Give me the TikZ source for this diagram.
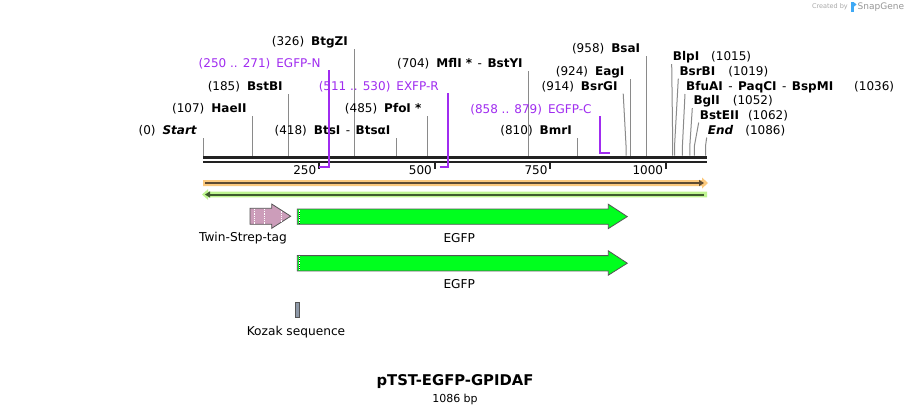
\documentclass[tikz,border=0pt]{standalone}
\usepackage{fontspec}
\setmainfont{DejaVu Sans}
\usetikzlibrary{arrows.meta,positioning,calc}
\definecolor{Ink}{HTML}{222222}
\definecolor{CutGray}{HTML}{8A8A8A}
\definecolor{Primer}{HTML}{A02CF0}
\definecolor{OrangeBand}{HTML}{FCC97D}
\definecolor{OrangeLine}{HTML}{5E4B32}
\definecolor{LimeBand}{HTML}{BEF590}
\definecolor{LimeLine}{HTML}{3E5B2D}
\definecolor{Gfp}{HTML}{00FF1E}
\definecolor{Strep}{HTML}{CC9DBA}
\definecolor{Kozak}{HTML}{8E99A8}
\definecolor{Edge}{HTML}{555555}
\definecolor{Credit}{HTML}{A8A8A8}
\definecolor{Logo}{HTML}{3FA9F5}
\newcommand{\bp}[1]{203.3+0.4625*#1}
\newcommand{\dsh}{\hspace{5.5pt}{\mdseries -}\hspace{5.5pt}}
\tikzset{
  site/.style={inner sep=1pt,font=\fontsize{12}{14}\selectfont},
  primertxt/.style={site,text=Primer},
  cut/.style={CutGray,line width=1pt},
  primerline/.style={Primer,line width=2pt},
  feat/.style={draw=Edge,line width=0.8pt},
  featlbl/.style={inner sep=1pt,font=\fontsize{12.2}{14}\selectfont}
}

\begin{document}
\begin{tikzpicture}[x=1pt,y=-1pt]
\useasboundingbox[fill=white] (0,0) rectangle (910,413);

% credit line
\node[inner sep=0pt,text=Credit,font=\fontsize{6.5}{7}\selectfont,anchor=east] (credA) at (848,7) {Created by};
\fill[Logo] (851,2) rectangle (853.5,12);
\fill[Logo] (853.5,2) -- (856.5,4.5) -- (853.5,7) -- cycle;
\node[inner sep=0pt,text=Credit!90!black,font=\fontsize{9}{10}\selectfont,anchor=west] (credB) at (857.5,7) {SnapGene};

% backbone
\draw[Ink,line width=3pt] (203.3,157) -- (706.7,157);
\draw[Ink,line width=2pt] (203.3,161.7) -- (706.7,161.7);
\foreach \t in {250,500,750,1000}{
  \draw[Ink,line width=2pt] ({\bp{\t}},162) -- ++(0,7);
  \node[site,anchor=east] (t\t) at ({\bp{\t}-1.5},170) {\t};
}

% sites, labels on the left
\foreach \id/\ps/\yy/\nm in {Start/0/131/{\textit{Start}},HaeII/107/109/HaeII,BstBI/185/87/BstBI,
    BtgZI/326/42/BtgZI,BtsI/418/131/{BtsI\dsh BtsαI},PfoI/485/109/{PfoI *},
    MflI/704/64/{MflI *\dsh BstYI},BmrI/810/131/BmrI,EagI/924/72/EagI,BsaI/958/49/BsaI}{
  \coordinate (s\id) at ({\bp{\ps}},155.5);
  \node[site,anchor=east] (l\id) at ({\bp{\ps}-5},\yy) {(\ps)\hspace{7pt}\textbf{\nm}};
  \draw[cut] (s\id) -- (s\id |- l\id.south);
}
\coordinate (sBsrGI) at ({\bp{914}},155.5);
\node[site,anchor=east] (lBsrGI) at (618.7,87) {(914)\hspace{7pt}\textbf{BsrGI}};
\draw[cut] (sBsrGI) -- ++(0,-10) -- ([xshift=4.5pt]lBsrGI.south east);

% sites, labels on the right
\foreach \id/\ps/\yy/\lx/\gap/\nm in {BlpI/1015/57/672.7/12/BlpI,BsrBI/1019/72/679.3/13/BsrBI,
    BfuAI/1036/87/686/21/{BfuAI\dsh PaqCI\dsh BspMI},BglI/1052/101/693.3/13/BglI,
    BstEII/1062/116/699.7/9/BstEII,End/1086/131/707.7/12/{\textit{End}}}{
  \coordinate (s\id) at ({\bp{\ps}},155.5);
  \node[site,anchor=west] (l\id) at (\lx-1,\yy) {\textbf{\nm}\hspace{\gap pt}(\ps)};
  \draw[cut] (s\id) -- ++(0,-10) -- (l\id.south west);
}

% primers
\node[primertxt,anchor=east] (lEGFPN) at (321.7,63.5) {(250 .. 271)\hspace{6pt}EGFP-N};
\coordinate (pN1) at ({\bp{250}},166.5);
\coordinate (pN2) at ({\bp{271}},166.5);
\draw[primerline] (pN1) -- (pN2) -- (pN2 |- lEGFPN.south);
\node[primertxt,anchor=east] (lEXFPR) at (440,86.7) {(511 .. 530)\hspace{6pt}EXFP-R};
\coordinate (pR1) at ({\bp{511}},166.5);
\coordinate (pR2) at ({\bp{530}},166.5);
\draw[primerline] (pR1) -- (pR2) -- (pR2 |- lEXFPR.south);
\node[primertxt,anchor=east] (lEGFPC) at (592.7,109.3) {(858 .. 879)\hspace{6pt}EGFP-C};
\coordinate (pC1) at ({\bp{858}},152.5);
\coordinate (pC2) at ({\bp{879}},152.5);
\draw[primerline] (pC2) -- (pC1) -- (pC1 |- lEGFPC.south);

% reading bands
\fill[OrangeBand] (203,180) -- (702,180) -- (702,177.5) -- (708,183) -- (702,188.5) -- (702,186) -- (203,186) -- cycle;
\draw[OrangeLine,line width=2pt,-{Triangle[length=5pt,width=6pt]}] (205,183) -- (704,183);
\fill[LimeBand] (707,191.7) -- (208,191.7) -- (208,189.2) -- (202,194.5) -- (208,199.8) -- (208,197.3) -- (707,197.3) -- cycle;
\draw[LimeLine,line width=2pt,-{Triangle[length=5pt,width=6pt]}] (704,194.5) -- (205,194.5);

% features
\draw[feat,fill=Strep] (250,208.3) -- (271.7,208.3) -- (271.7,204) -- (290.7,216.2) -- (271.7,228.3)
  -- (271.7,224.3) -- (250,224.3) -- cycle;
\foreach \dx in {254.5,264.3}
  \draw[white,densely dotted,line width=0.8pt] (\dx,209) -- (\dx,223.6);
\draw[white,densely dotted,line width=0.8pt] (281.3,210.5) -- (281.3,222);
\node[featlbl] (fStrep) at (243,237.7) {Twin-Strep-tag};

\foreach \yy/\nm in {216.6/gfpA,263.2/gfpB}{
  \draw[feat,fill=Gfp] (297.3,\yy-7.6) -- (608.3,\yy-7.6) -- (608.3,\yy-12.4) -- (627.3,\yy) -- (608.3,\yy+12)
    -- (608.3,\yy+7.7) -- (297.3,\yy+7.7) -- cycle;
  \draw[Ink,line width=0.8pt] (299.8,\yy-7) -- (299.8,\yy+7);
  \draw[white,densely dotted,line width=0.8pt] (299.8,\yy-7) -- (299.8,\yy+7);
}
\node[featlbl] (fGfpA) at (459.3,237.7) {EGFP};
\node[featlbl] (fGfpB) at (459.3,284.3) {EGFP};

\draw[feat,fill=Kozak] (295.3,302.3) rectangle (299.7,317.7);
\node[featlbl] (fKozak) at (296,331.7) {Kozak sequence};

% title
\node[inner sep=0pt,font=\fontsize{14.8}{17}\selectfont\bfseries] (title) at (455,381.7) {pTST-EGFP-GPIDAF};
\node[inner sep=0pt,font=\fontsize{11}{13}\selectfont,below=5pt of title] (size) {1086 bp};
\end{tikzpicture}
\end{document}
